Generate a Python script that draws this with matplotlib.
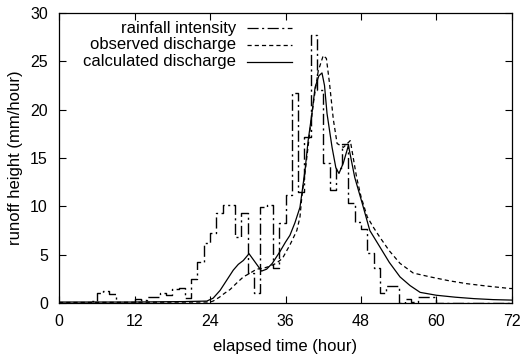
import numpy as np
import matplotlib
matplotlib.use("Agg")
import matplotlib.pyplot as plt

plt.rcParams['font.family'] = ['Liberation Sans', 'DejaVu Sans']
plt.rcParams['lines.scale_dashes'] = False

# hourly rainfall intensity (mm/hour), hour i -> i+1
rain = [0, 0, 0, 0, 0, 0.2, 1.0, 1.2, 0.9, 0, 0, 0,
        0.4, 0.3, 0.6, 0.6, 1.0, 0.8, 1.5, 1.6, 0.5, 2.5, 4.2, 6.2,
        7.2, 9.3, 10.1, 10.1, 6.8, 9.3, 3.1, 1.0, 9.9, 10.1, 3.6, 8.3,
        11.2, 21.7, 11.5, 17.2, 27.7, 22.0, 14.5, 11.7, 14.0, 16.5, 10.3, 8.4,
        7.7, 5.2, 3.6, 1.0, 1.8, 1.8, 0.0, 0.4, 0.1, 0.6, 0.6, 0.6,
        0, 0, 0, 0, 0, 0, 0, 0, 0, 0, 0, 0]
rain_hours = np.arange(len(rain) + 1)

# observed discharge
obs_t = [0, 24, 24.5, 25.5, 26.3, 27.2, 28.3, 29.3, 30.4, 31.4, 32.5, 33.5,
         34.5, 35.5, 36.7, 37.8, 38.3, 38.6, 39.2, 39.9, 40.5, 41.2, 42, 42.5,
         43, 43.6, 44.2, 45.2, 46.3, 47.3, 48, 49, 50, 51, 52.5, 54.2,
         56.3, 59, 62, 64.8, 68, 71.7, 72]
obs_q = [0.05, 0.1, 0.2, 0.6, 1.0, 1.4, 2.1, 2.7, 3.1, 3.5, 3.6, 3.8,
         4.1, 4.6, 6.0, 7.5, 8.9, 11.0, 14.0, 17.9, 21.0, 24.0, 25.6, 25.3,
         22.7, 19.0, 16.5, 16.1, 16.8, 13.0, 11.0, 8.9, 7.8, 6.8, 5.4, 4.1,
         3.1, 2.7, 2.3, 2.0, 1.75, 1.5, 1.5]

# calculated discharge
calc_t = [0, 12, 20, 23.5, 24.5, 25.6, 26.5, 27.7, 28.5, 29.3, 30.2, 31.2,
          32.2, 33, 33.9, 35.1, 36, 36.7, 37.5, 38.3, 39.1, 39.6, 40.2, 40.7,
          41.3, 41.8, 42.2, 42.6, 43.4, 44, 44.5, 45.2, 46, 47, 48.2, 49.4,
          51, 52.5, 54.2, 55.8, 57.4, 60, 63, 66, 69, 72]
calc_q = [0.1, 0.1, 0.15, 0.2, 0.5, 1.3, 2.2, 3.4, 4.0, 4.4, 5.1, 4.2,
          3.3, 3.5, 4.1, 5.3, 6.3, 7.0, 8.3, 9.9, 13.7, 16.8, 19.6, 22.3,
          23.5, 23.8, 22.5, 19.6, 16.1, 14.0, 13.4, 14.5, 16.3, 13.0, 10.3, 7.5,
          5.8, 4.2, 2.7, 1.8, 1.1, 0.8, 0.6, 0.45, 0.35, 0.3]

labels = ['rainfall intensity', 'observed discharge', 'calculated discharge']
styles = [(0, (8, 2.5, 1.5, 2.5)), (0, (3, 2.2)), '-']

fig = plt.figure(figsize=(5.22, 3.61), dpi=100)
ax = fig.add_axes([59 / 522, 1 - 303 / 361, 453 / 522, 290 / 361])

ax.step(rain_hours, rain + [rain[-1]], where='post', color='black',
        lw=1.0, linestyle=styles[0])
ax.plot(obs_t, obs_q, color='black', lw=0.9, linestyle=styles[1])
ax.plot(calc_t, calc_q, color='black', lw=0.9, linestyle=styles[2])

ax.set_xlim(0, 72)
ax.set_ylim(0, 30)
ax.set_xticks(range(0, 73, 12))
ax.set_yticks(range(0, 31, 5))
ax.tick_params(direction='in', length=5, width=0.8, top=True, right=True,
               labelsize=11.5, pad=8)
for s in ax.spines.values():
    s.set_linewidth(0.9)

ax.set_xlabel('elapsed time (hour)', fontsize=12, labelpad=7)
ax.set_ylabel('runoff height (mm/hour)', fontsize=12, labelpad=5)

# gnuplot-style key: right-aligned text, sample line to the right
for i, (lab, ls) in enumerate(zip(labels, styles)):
    y = 0.948 - i * 0.058
    ax.text(0.391, y, lab, transform=ax.transAxes, ha='right', va='center',
            fontsize=12)
    ax.plot([0.415, 0.514], [y, y], transform=ax.transAxes, color='black',
            lw=0.9, linestyle=ls)

fig.savefig('out.png', dpi=100)
